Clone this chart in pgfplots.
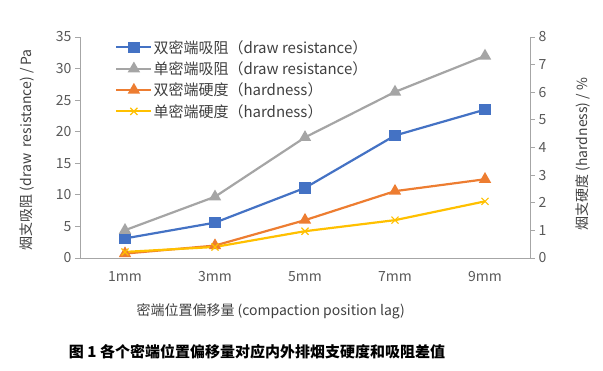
\documentclass[border=0pt]{standalone}
\usepackage{pgfplots}
\pgfplotsset{compat=1.18}
\usepackage{fontspec}
\setmainfont{Noto Sans CJK SC}
\definecolor{cblue}{HTML}{4472C4}
\definecolor{cgray}{HTML}{A5A5A5}
\definecolor{corange}{HTML}{ED7D31}
\definecolor{cyellow}{HTML}{FFC000}
\definecolor{axisgray}{HTML}{A6A6A6}
\definecolor{labelgray}{HTML}{595959}
\definecolor{titlegray}{HTML}{404040}
\pgfplotsset{
  common/.style={
    scale only axis, width=450pt, height=221pt, at={(0,0)}, anchor=south west,
    xmin=-0.5, xmax=4.5,
    axis line style={draw=axisgray, line width=0.8pt},
    tick align=outside, major tick length=5pt,
    every tick/.style={draw=axisgray, line width=0.8pt},
    tick label style={font=\fontsize{14}{16}\selectfont, text=labelgray},
    label style={font=\fontsize{14}{16}\selectfont, text=titlegray},
    /pgf/number format/assume math mode=true,
  },
  sblue/.style={color=cblue, line width=2.2pt, mark=square*, mark size=4.5pt, mark options={solid, fill=cblue}},
  sgray/.style={color=cgray, line width=2.2pt, mark=triangle*, mark size=5pt, mark options={solid, fill=cgray}},
  sorange/.style={color=corange, line width=2.2pt, mark=triangle*, mark size=5pt, mark options={solid, fill=corange}},
  syellow/.style={color=cyellow, line width=2.2pt, mark=x, mark size=5pt, mark options={solid, line width=1.2pt}},
}
\begin{document}
\begin{tikzpicture}[x=1pt,y=1pt]
\useasboundingbox (-80,-113) rectangle (523,258);
\begin{axis}[common,
  ymin=0, ymax=35, ytick={0,5,...,35},
  axis y line*=left, axis x line*=bottom,
  xtick={0,...,4}, xticklabels={1mm,3mm,5mm,7mm,9mm},
  x tick style={draw=none}, xticklabel style={yshift=-5pt},
  xlabel={密端位置偏移量 (compaction position lag)},
  xlabel style={at={([xshift=53pt,yshift=-53pt]axis description cs:0,0)}, anchor=west},
  ylabel={烟支吸阻 (draw\ \ resistance) / Pa},
  ylabel style={at={([xshift=-53pt]axis description cs:0,0.49)}, anchor=center},
]
\addplot[sblue] coordinates {(0,3.1) (1,5.6) (2,11.1) (3,19.4) (4,23.5)};
\addplot[sgray] coordinates {(0,4.4) (1,9.7) (2,19.1) (3,26.3) (4,32.0)};
\end{axis}
\begin{axis}[common,
  ymin=0, ymax=8, ytick={0,1,...,8},
  axis y line*=right, axis x line=none,
  ylabel={烟支硬度 (hardness) / \%},
  ylabel style={at={([xshift=53pt]axis description cs:1,0.47)}, anchor=center},
  legend cell align=left,
  legend style={at={([yshift=-2pt]axis description cs:0.078,1)}, anchor=north west, draw=none, fill=none,
    font=\fontsize{15}{18}\selectfont, text=titlegray, row sep=5pt, inner sep=0pt,
    nodes={inner sep=1pt}},
  legend image code/.code={\draw[mark repeat=2, mark phase=2] plot coordinates {(0pt,0pt) (17.5pt,0pt) (35pt,0pt)};},
]
\addlegendimage{sblue}
\addlegendentry{双密端吸阻（draw resistance）}
\addlegendimage{sgray}
\addlegendentry{单密端吸阻（draw resistance）}
\addplot[sorange] coordinates {(0,0.16) (1,0.45) (2,1.37) (3,2.42) (4,2.85)};
\addlegendentry{双密端硬度（hardness）}
\addplot[syellow] coordinates {(0,0.22) (1,0.40) (2,0.97) (3,1.37) (4,2.05)};
\addlegendentry{单密端硬度（hardness）}
\end{axis}
\node[font=\fontsize{15}{17}\selectfont\bfseries, text=black] at (177,-94) {图 1\ 各个密端位置偏移量对应内外排烟支硬度和吸阻差值};
\end{tikzpicture}
\end{document}
